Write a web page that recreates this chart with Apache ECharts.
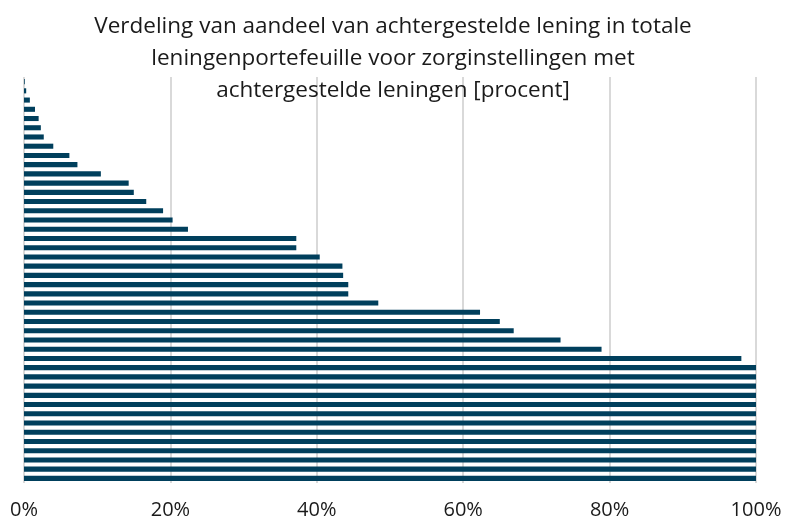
<!DOCTYPE html>
<html>
<head>
<meta charset="utf-8">
<script src="https://cdn.jsdelivr.net/npm/echarts@6/dist/echarts.min.js"></script>
<style>
  html, body { margin: 0; padding: 0; background: #fff; }
  #chart { width: 788px; height: 521px; }
</style>
</head>
<body>
<div id="chart"></div>
<script>
// aandeel achtergestelde lening per zorginstelling (procent), van klein naar groot
const shares = [
  0.1, 0.3, 0.8, 1.5, 2.0, 2.3, 2.7, 4.0, 6.2, 7.3,
  10.5, 14.3, 15.0, 16.7, 19.0, 20.3, 22.4, 37.2, 37.2, 40.4,
  43.5, 43.6, 44.3, 44.3, 48.4, 62.3, 65.0, 66.9, 73.3, 78.9,
  98.0, 100, 100, 100, 100, 100, 100, 100, 100, 100,
  100, 100, 100, 100
]
const instellingen = shares.map((_, i) => 'Instelling ' + (i + 1))
const xTicks = [0, 20, 40, 60, 80, 100]

const titleText = 'Verdeling van aandeel van achtergestelde lening in totale\n' +
  'leningenportefeuille voor zorginstellingen met\n' +
  'achtergestelde leningen [procent]'

const chart = echarts.init(document.getElementById('chart'))
chart.setOption({
  animation: false,
  title: {
    text: titleText,
    left: 388,
    top: 6,
    textAlign: 'center',
    textStyle: {
      fontFamily: 'Open Sans',
      fontSize: 22.5,
      fontWeight: 'normal',
      lineHeight: 32,
      color: '#1a1a1a'
    }
  },
  grid: {
    left: 24,
    right: 32,
    top: 77,
    bottom: 38,
    containLabel: false
  },
  xAxis: {
    type: 'value',
    min: xTicks[0],
    max: xTicks[xTicks.length - 1],
    interval: 20,
    axisLine: { show: false },
    axisTick: { show: false },
    splitLine: { lineStyle: { color: '#d9d9d9', width: 2 } },
    axisLabel: {
      formatter: '{value}%',
      fontFamily: 'Open Sans',
      fontSize: 20,
      color: '#1a1a1a',
      margin: 17
    }
  },
  yAxis: {
    type: 'category',
    data: instellingen,
    inverse: true,
    axisLine: { show: false },
    axisTick: { show: false },
    axisLabel: { show: false }
  },
  series: [{
    type: 'bar',
    data: shares,
    barCategoryGap: '45%',
    itemStyle: { color: '#003f5c' }
  }]
})
</script>
</body>
</html>
